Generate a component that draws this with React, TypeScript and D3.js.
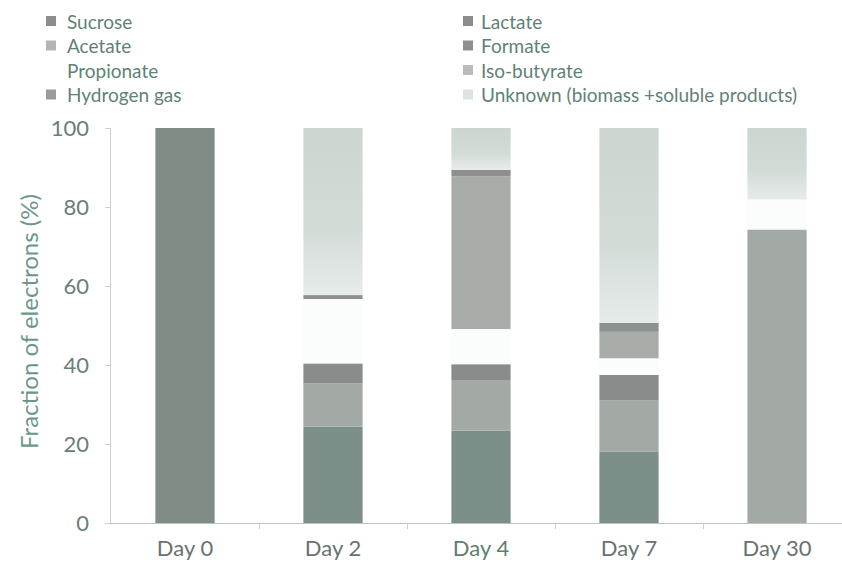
import React from "react";
import * as d3 from "d3";

const categories = ["Day 0", "Day 2", "Day 4", "Day 7", "Day 30"];
const seriesNames = ["Sucrose", "Lactate", "Acetate", "Formate", "Propionate", "Iso-butyrate", "Hydrogen gas", "Unknown (biomass +soluble products)"];
const sucrose = [100, 0, 0, 0, 0];
const lactate = [0, 24.4, 23.4, 18.0, 0];
const acetate = [0, 11.0, 12.8, 13.0, 74.3];
const formate = [0, 5.0, 4.0, 6.5, 0];
const propionate = [0, 16.3, 8.9, 4.2, 7.6];
const isoButyrate = [0, 0, 38.7, 6.7, 0];
const hydrogen = [0, 1.0, 1.6, 2.3, 0];
const unknown = [0, 42.3, 10.6, 49.3, 18.1];
const yTicks = [0, 20, 40, 60, 80, 100];

const legendLeft = ["Sucrose", "Acetate", "Propionate", "Hydrogen gas"];
const legendRight = ["Lactate", "Formate", "Iso-butyrate", "Unknown (biomass +soluble products)"];

const colors: Record<string, string> = {
  "Sucrose": "#7f8b85",
  "Lactate": "#7b8f88",
  "Acetate": "#a3aaa5",
  "Formate": "#8a8c8b",
  "Propionate": "#fbfcfc",
  "Iso-butyrate": "#a7aca9",
  "Hydrogen gas": "#8e908f",
  "Unknown (biomass +soluble products)": "url(#unkGrad)",
};
const legendMarker: Record<string, string> = {
  "Sucrose": "#8a8f8c",
  "Lactate": "#8a8d8b",
  "Acetate": "#b3b6b4",
  "Formate": "#8d8f8e",
  "Propionate": "none",
  "Iso-butyrate": "#b9bcba",
  "Hydrogen gas": "#999c9a",
  "Unknown (biomass +soluble products)": "#dde3e1",
};

const seriesData = [sucrose, lactate, acetate, formate, propionate, isoButyrate, hydrogen, unknown];

export default function App() {
  const W = 842, H = 571;
  const x = d3.scaleBand<string>().domain(categories).range([111, 851]).paddingInner(0.6).paddingOuter(0.3);
  const xOuter = d3.scaleBand<string>().domain(categories).range([111, 851]);
  const y = d3.scaleLinear().domain([0, 100]).range([523, 128]);

  const table = categories.map((c, i) => {
    const row: any = { cat: c };
    seriesNames.forEach((s, j) => (row[s] = seriesData[j][i]));
    return row;
  });
  const stack = d3.stack<any>().keys(seriesNames)(table);
  const font = "Lato, sans-serif";

  return (
    <svg width={W} height={H} style={{ position: "absolute", left: 0, top: 0, background: "#fff" }}>
      <defs>
        <linearGradient id="unkGrad" x1="0" y1="0" x2="0" y2="1">
          <stop offset="0" stopColor="#cdd5d1" />
          <stop offset="0.6" stopColor="#d3dbd7" />
          <stop offset="1" stopColor="#e6ecea" />
        </linearGradient>
      </defs>
      <rect width={W} height={H} fill="#fff" />
      {stack.map((layer) =>
        layer.map((d, i) => {
          const h = y(d[0]) - y(d[1]);
          if (h <= 0) return null;
          return (
            <rect key={layer.key + i} x={x(categories[i])} width={x.bandwidth()} y={y(d[1])} height={h} fill={colors[layer.key]} />
          );
        })
      )}
      {/* axes */}
      <line x1={110.5} x2={110.5} y1={128} y2={523} stroke="#c9cfcc" />
      {yTicks.map((t) => (
        <g key={t}>
          <line x1={105} x2={110} y1={y(t) + 0.5} y2={y(t) + 0.5} stroke="#c9cfcc" />
          <text x={89} y={y(t)} dy="0.36em" textAnchor="end" fontFamily={font} fontSize={22} fill="#687f77">{t}</text>
        </g>
      ))}
      <line x1={110} x2={842} y1={523.5} y2={523.5} stroke="#b9c4bf" />
      {categories.slice(1).map((c) => (
        <line key={c} x1={(xOuter(c) as number) + 0.5} x2={(xOuter(c) as number) + 0.5} y1={523} y2={529} stroke="#c9cfcc" />
      ))}
      {categories.map((c) => (
        <text key={c} x={(x(c) as number) + x.bandwidth() / 2} y={556} textAnchor="middle" fontFamily={font} fontSize={22} fill={c === "Day 4" ? "#5c7f6f" : "#68726e"}>{c}</text>
      ))}
      <text transform={`translate(38,${y(51)}) rotate(-90)`} textAnchor="middle" fontFamily={font} fontSize={24} fill="#6a978a">Fraction of electrons (%)</text>
      {/* legend */}
      {legendLeft.map((s, i) => (
        <g key={s}>
          {legendMarker[s] !== "none" && <rect x={46} y={16 + i * 24.5} width={10} height={10} fill={legendMarker[s]} />}
          <text x={67} y={22 + i * 24.5} dy="0.35em" fontFamily={font} fontSize={19} fill="#5f8276">{s}</text>
        </g>
      ))}
      {legendRight.map((s, i) => (
        <g key={s}>
          <rect x={463} y={16 + i * 24.5} width={10} height={10} fill={legendMarker[s]} />
          <text x={481} y={22 + i * 24.5} dy="0.35em" fontFamily={font} fontSize={19} fill="#5f8276">{s}</text>
        </g>
      ))}
    </svg>
  );
}
